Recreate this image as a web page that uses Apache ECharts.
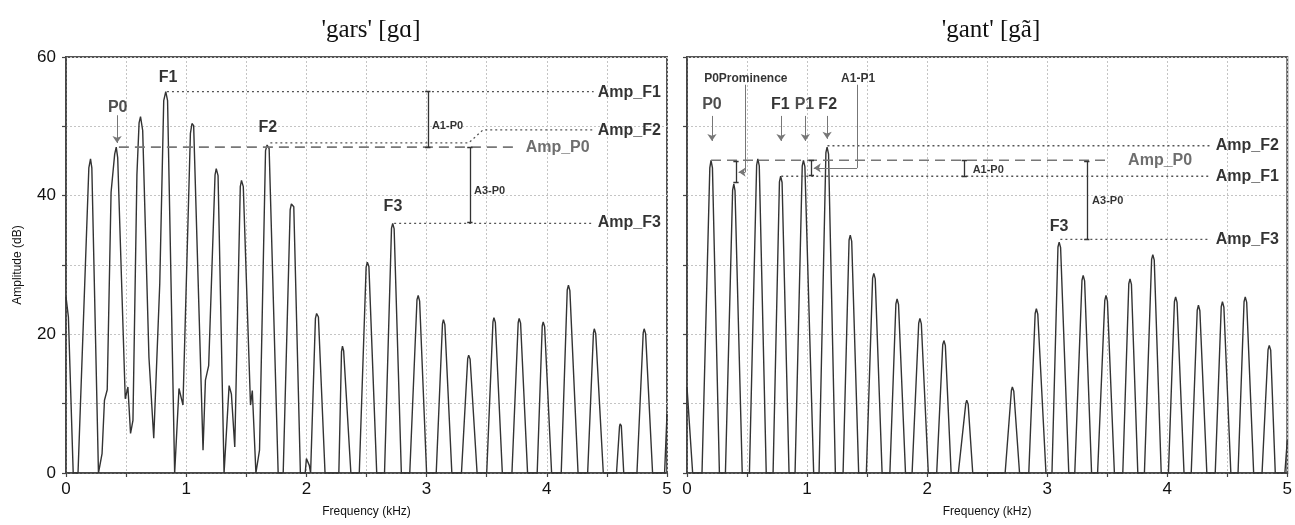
<!DOCTYPE html>
<html lang="en">
<head>
<meta charset="UTF-8">
<title>gars / gant spectra</title>
<style>
  html, body { margin: 0; padding: 0; background: #fff; }
  #main { width: 1295px; height: 525px; }
</style>
</head>
<body>
<div id="main"></div>
<script src="https://cdn.jsdelivr.net/npm/echarts@6/dist/echarts.min.js"></script>
<script>
// panel titles and axis ticks
var panelTitles = ["'gars' [gɑ]", "'gant' [gã]"];
var freqLabels = [0, 1, 2, 3, 4, 5];
var ampLabels = [0, 20, 40, 60];

// spectrum of 'gars' : [kHz, dB]
var garsSpectrum = [
  [0, 25.4], [0.02, 22.5], [0.06, 0], [0.1, 0],
  [0.19, 44], [0.204, 45.3], [0.215, 44], [0.27, 0],
  [0.28, 0], [0.30, 2.8], [0.32, 10.5], [0.343, 12], [0.375, 40.5], [0.405, 46], [0.418, 47], [0.43, 45.5],
  [0.493, 10.7], [0.515, 12.4], [0.537, 5.7], [0.557, 7.6],
  [0.59, 43], [0.608, 50.5], [0.62, 51.4], [0.638, 49.4],
  [0.69, 16.7], [0.73, 5],
  [0.78, 27.3], [0.813, 53.7], [0.83, 55], [0.845, 53.7], [0.904, 0],
  [0.94, 12.2], [0.973, 9.8], [1.035, 49], [1.048, 50.4], [1.062, 50.1], [1.14, 3.3],
  [1.16, 13.4], [1.187, 15.5], [1.24, 43], [1.25, 43.9], [1.265, 42.9], [1.315, 0],
  [1.357, 12.6], [1.376, 11.4], [1.404, 3.75], [1.45, 41.3], [1.46, 42.2], [1.475, 41.3],
  [1.535, 9.8], [1.55, 11.9], [1.58, 0],
  [1.61, 3.3], [1.66, 46.5], [1.673, 47.3], [1.69, 46.8], [1.765, 0], [1.807, 0],
  [1.865, 38], [1.875, 38.8], [1.895, 38.4], [1.95, 0], [1.99, 0], [2.0, 2.1], [2.024, 1.1], [2.035, 0],
  [2.075, 22.3], [2.085, 23], [2.1, 22.5], [2.155, 0], [2.27, 0],
  [2.292, 17.5], [2.30, 18.3], [2.31, 17.6], [2.37, 0], [2.44, 0],
  [2.497, 29.7], [2.507, 30.4], [2.52, 29.8], [2.585, 0], [2.65, 0],
  [2.708, 35.3], [2.718, 36], [2.73, 35.2], [2.79, 0], [2.86, 0],
  [2.92, 25], [2.93, 25.6], [2.942, 24.8], [3.0, 0], [3.08, 0],
  [3.132, 21.5], [3.14, 22.1], [3.152, 21.4], [3.21, 0], [3.29, 0],
  [3.342, 16.5], [3.35, 17], [3.362, 16.4], [3.42, 0], [3.50, 0],
  [3.552, 21.8], [3.56, 22.4], [3.572, 21.7], [3.63, 0], [3.71, 0],
  [3.762, 21.7], [3.77, 22.3], [3.782, 21.6], [3.84, 0], [3.92, 0],
  [3.962, 21.2], [3.97, 21.8], [3.982, 21.1], [4.04, 0], [4.12, 0],
  [4.17, 26.4], [4.18, 27.1], [4.192, 26.3], [4.26, 0], [4.34, 0],
  [4.388, 20.2], [4.395, 20.8], [4.407, 20.1], [4.47, 0], [4.58, 0],
  [4.605, 6.7], [4.61, 7.1], [4.62, 6.8], [4.64, 0], [4.75, 0],
  [4.802, 20.2], [4.81, 20.8], [4.822, 20.1], [4.88, 0], [4.98, 0], [5, 8.5]
];

// spectrum of 'gant' : [kHz, dB]
var gantSpectrum = [
  [0, 12.4], [0.047, 0], [0.125, 0], [0.19, 44], [0.2, 45.1], [0.212, 44], [0.27, 0],
  [0.32, 0], [0.38, 40.8], [0.39, 41.7], [0.40, 40.7], [0.46, 0],
  [0.52, 0], [0.58, 44.4], [0.59, 45.3], [0.602, 44.3], [0.66, 0],
  [0.717, 0], [0.77, 42], [0.78, 42.8], [0.792, 41.9], [0.85, 0],
  [0.90, 0], [0.96, 44.3], [0.97, 45.1], [0.982, 44.2], [1.055, 0],
  [1.10, 0], [1.157, 46.2], [1.167, 47], [1.179, 46], [1.236, 0],
  [1.30, 0], [1.35, 33.6], [1.36, 34.3], [1.372, 33.4], [1.43, 0],
  [1.494, 0], [1.546, 28.1], [1.556, 28.8], [1.568, 28], [1.625, 0],
  [1.69, 0], [1.74, 24.4], [1.75, 25.1], [1.762, 24.3], [1.82, 0],
  [1.875, 0], [1.93, 21.6], [1.94, 22.3], [1.952, 21.5], [2.01, 0],
  [2.08, 0], [2.13, 18.5], [2.14, 19.1], [2.152, 18.4], [2.20, 0],
  [2.26, 0], [2.322, 10], [2.33, 10.5], [2.342, 9.9], [2.38, 0],
  [2.65, 0], [2.702, 11.9], [2.71, 12.4], [2.722, 11.8], [2.77, 0],
  [2.847, 0], [2.90, 23], [2.91, 23.7], [2.922, 22.9], [2.99, 0],
  [3.04, 0], [3.09, 32.6], [3.10, 33.3], [3.112, 32.5], [3.18, 0],
  [3.23, 0], [3.29, 27.8], [3.30, 28.5], [3.312, 27.7], [3.37, 0],
  [3.42, 0], [3.48, 24.9], [3.49, 25.6], [3.502, 24.8], [3.56, 0],
  [3.63, 0], [3.68, 27.3], [3.69, 28], [3.702, 27.2], [3.755, 0],
  [3.81, 0], [3.87, 30.8], [3.88, 31.5], [3.892, 30.7], [3.95, 0],
  [4.01, 0], [4.06, 24.7], [4.07, 25.4], [4.082, 24.6], [4.14, 0],
  [4.20, 0], [4.25, 23.5], [4.26, 24.2], [4.272, 23.4], [4.33, 0],
  [4.40, 0], [4.45, 24], [4.46, 24.7], [4.472, 23.9], [4.53, 0],
  [4.59, 0], [4.64, 24.7], [4.65, 25.4], [4.662, 24.6], [4.72, 0],
  [4.79, 0], [4.84, 17.8], [4.85, 18.4], [4.862, 17.7], [4.90, 0],
  [4.98, 0], [5, 4.7]
];

// annotation lines, in kHz / dB
var garsDotted = [
  [[0.84, 55], [4.39, 55]],
  [[1.7, 47.6], [3.35, 47.6], [3.47, 49.5], [4.39, 49.5]],
  [[2.73, 36], [4.39, 36]]
];
var garsDashed = [[[0.44, 47], [3.76, 47]]];
var garsBars = [[3.01, 55, 47], [3.36, 47, 36.1]];   // [kHz, top, bottom]
var garsArrows = [[[0.425, 51.6], [0.425, 47.6]]];
var garsLeaders = [];

var gantDotted = [
  [[1.17, 47.2], [4.36, 47.2]],
  [[0.785, 42.8], [4.36, 42.8]],
  [[3.11, 33.7], [4.36, 33.7]]
];
var gantDashed = [[[0.2, 45.1], [3.51, 45.1]]];
var gantBars = [[0.408, 44.9, 41.9], [1.036, 45.1, 42.9], [2.31, 45.1, 42.8], [3.33, 45.0, 33.7]];
var gantArrows = [
  [[0.208, 51.5], [0.208, 47.9]],
  [[0.783, 51.5], [0.783, 47.9]],
  [[0.986, 51.5], [0.986, 47.9]],
  [[1.167, 51.5], [1.167, 48.2]],
  [[0.486, 43.4], [0.43, 43.4]],
  [[1.417, 44.0], [1.056, 44.0]]
];
var gantLeaders = [
  [[0.486, 56.0], [0.486, 43.4]],
  [[1.417, 56.0], [1.417, 44.0]]
];

// text labels: [text, kHz, dB]
var garsPeakLabels = [['F1', 0.85, 57.0], ['F2', 1.68, 49.8], ['F3', 2.72, 38.4]];
var garsPLabels = [['P0', 0.43, 52.7]];
var garsAmpLabels = [['Amp_F1', 4.42, 54.9], ['Amp_F2', 4.42, 49.4], ['Amp_F3', 4.42, 36.1]];
var garsP0Labels = [['Amp_P0', 3.82, 46.9]];
var garsSmallLabels = [['A1-P0', 3.04, 50.1], ['A3-P0', 3.39, 40.7]];
var garsTopLabels = [];

var gantPeakLabels = [['F1', 0.778, 53.1], ['F2', 1.172, 53.1], ['F3', 3.10, 35.5]];
var gantPLabels = [['P0', 0.208, 53.1], ['P1', 0.978, 53.1]];
var gantAmpLabels = [['Amp_F2', 4.40, 47.2], ['Amp_F1', 4.40, 42.7], ['Amp_F3', 4.40, 33.6]];
var gantP0Labels = [['Amp_P0', 3.67, 45.0]];
var gantSmallLabels = [['A1-P0', 2.375, 43.75], ['A3-P0', 3.37, 39.3]];
var gantTopLabels = [['P0Prominence', 0.49, 56.8], ['A1-P1', 1.425, 56.8]];

var FONT = 'Liberation Sans, Arial, sans-serif';
var myChart = echarts.init(document.getElementById('main'));

function xAxisFor(gi) {
  return {
    type: 'value', gridIndex: gi, min: 0, max: 5, interval: 0.5,
    name: 'Frequency (kHz)', nameLocation: 'middle', nameGap: 33,
    nameTextStyle: { fontFamily: FONT, fontSize: 12, color: '#111' },
    axisLine: { show: true, lineStyle: { color: '#444', width: 1.5 } },
    axisTick: { show: true, length: 4, lineStyle: { color: '#444', width: 1.2 } },
    axisLabel: {
      margin: 8, fontFamily: FONT, fontSize: 17, color: '#111',
      formatter: function (v) { return freqLabels.indexOf(v) >= 0 ? String(v) : ''; }
    },
    splitLine: { show: true, lineStyle: { color: '#c4c4c4', type: [2, 2], width: 1 } }
  };
}

function yAxisFor(gi, withLabels) {
  return {
    type: 'value', gridIndex: gi, min: 0, max: 60, interval: 10,
    name: withLabels ? 'Amplitude (dB)' : '', nameLocation: 'middle', nameGap: 42, nameRotate: 90,
    nameTextStyle: { fontFamily: FONT, fontSize: 12, color: '#111' },
    axisLine: { show: true, lineStyle: { color: '#444', width: 1.5 } },
    axisTick: { show: true, length: 4, lineStyle: { color: '#444', width: 1.2 } },
    axisLabel: {
      show: withLabels, margin: 10, fontFamily: FONT, fontSize: 17, color: '#111',
      formatter: function (v) { return ampLabels.indexOf(v) >= 0 ? String(v) : ''; }
    },
    splitLine: { show: true, lineStyle: { color: '#c4c4c4', type: [2, 2], width: 1 } }
  };
}

function lineSeries(gi, data, style, z) {
  return {
    type: 'line', xAxisIndex: gi, yAxisIndex: gi, data: data, symbol: 'none',
    silent: true, z: z, lineStyle: style, smooth: false
  };
}

// 'lines' series fade to 0.5 by default, so opacity is forced to 1
function linesSeries(gi, coordsList, style, poly) {
  return {
    type: 'lines', coordinateSystem: 'cartesian2d', xAxisIndex: gi, yAxisIndex: gi,
    polyline: !!poly, silent: true, z: 4,
    symbol: ['none', 'none'],
    lineStyle: Object.assign({ opacity: 1 }, style),
    data: coordsList.map(function (c) { return { coords: c }; })
  };
}

function arrowSeries(gi, coordsList) {
  return {
    type: 'lines', coordinateSystem: 'cartesian2d', xAxisIndex: gi, yAxisIndex: gi,
    polyline: false, silent: true, z: 4,
    symbol: ['none', 'arrow'], symbolSize: [5, 7],
    lineStyle: { color: '#777', width: 1, opacity: 1 },
    data: coordsList.map(function (c) { return { coords: c }; })
  };
}

function barCoords(bars) {
  var out = [];
  var c = 0.022;
  bars.forEach(function (b) {
    out.push([[b[0], b[1]], [b[0], b[2]]]);
    out.push([[b[0] - c, b[1]], [b[0] + c, b[1]]]);
    out.push([[b[0] - c, b[2]], [b[0] + c, b[2]]]);
  });
  return out;
}

function labelSeries(gi, items, pos, textStyle) {
  return {
    type: 'scatter', xAxisIndex: gi, yAxisIndex: gi, symbolSize: 1, silent: true, z: 6,
    itemStyle: { color: 'rgba(0,0,0,0)' },
    data: items.map(function (d) { return { name: d[0], value: [d[1], d[2]] }; }),
    label: Object.assign({ show: true, formatter: '{b}', position: pos, distance: 0, fontFamily: FONT,
      textBorderWidth: 0 }, textStyle)
  };
}

var peakText = { fontSize: 16, fontWeight: 'bold', color: '#000' };
var pText = { fontSize: 16, fontWeight: 'bold', color: '#222' };
var ampText = { fontSize: 16, fontWeight: 'bold', color: '#000' };
var p0Text = { fontSize: 16, fontWeight: 'bold', color: '#4a4a4a' };
var smallText = { fontSize: 11, fontWeight: 'bold', color: '#000' };
var dottedStyle = { color: '#555', width: 1.3, type: [2, 3] };
var dashedStyle = { color: '#777', width: 1.6, type: [10, 6] };
var barStyle = { color: '#333', width: 1.3 };

var panels = [
  { spec: garsSpectrum, dotted: garsDotted, dashed: garsDashed, bars: garsBars, arrows: garsArrows, leaders: garsLeaders,
    peak: garsPeakLabels, p: garsPLabels, amp: garsAmpLabels, p0: garsP0Labels, small: garsSmallLabels, top: garsTopLabels },
  { spec: gantSpectrum, dotted: gantDotted, dashed: gantDashed, bars: gantBars, arrows: gantArrows, leaders: gantLeaders,
    peak: gantPeakLabels, p: gantPLabels, amp: gantAmpLabels, p0: gantP0Labels, small: gantSmallLabels, top: gantTopLabels }
];

var series = [];
panels.forEach(function (p, gi) {
  series.push(lineSeries(gi, p.spec, { color: '#333', width: 1.4 }, 3));
  series.push(linesSeries(gi, p.dotted, dottedStyle, true));
  series.push(linesSeries(gi, p.dashed, dashedStyle, true));
  series.push(linesSeries(gi, barCoords(p.bars), barStyle, false));
  series.push(linesSeries(gi, p.leaders, { color: '#777', width: 1 }, false));
  series.push(arrowSeries(gi, p.arrows));
  series.push(labelSeries(gi, p.peak, 'inside', peakText));
  series.push(labelSeries(gi, p.p, 'inside', pText));
  series.push(labelSeries(gi, p.amp, 'right', ampText));
  series.push(labelSeries(gi, p.p0, 'right', p0Text));
  series.push(labelSeries(gi, p.small, 'right', smallText));
  series.push(labelSeries(gi, p.top, 'inside', { fontSize: 12, fontWeight: 'bold', color: '#000' }));
});

var option = {
  animation: false,
  backgroundColor: '#fff',
  title: [
    { text: panelTitles[0], left: 366, top: 13, textAlign: 'center',
      textStyle: { fontFamily: 'Liberation Serif, Times New Roman, serif', fontSize: 25, fontWeight: 'normal', color: '#111' } },
    { text: panelTitles[1], left: 986, top: 13, textAlign: 'center',
      textStyle: { fontFamily: 'Liberation Serif, Times New Roman, serif', fontSize: 25, fontWeight: 'normal', color: '#111' } }
  ],
  grid: [
    { left: 66, right: 628, top: 57, bottom: 52, show: true, borderColor: '#555', borderWidth: 2 },
    { left: 687, right: 7, top: 57, bottom: 52, show: true, borderColor: '#555', borderWidth: 2 }
  ],
  xAxis: [xAxisFor(0), xAxisFor(1)],
  yAxis: [yAxisFor(0, true), yAxisFor(1, false)],
  series: series
};

myChart.setOption(option);
</script>
</body>
</html>
